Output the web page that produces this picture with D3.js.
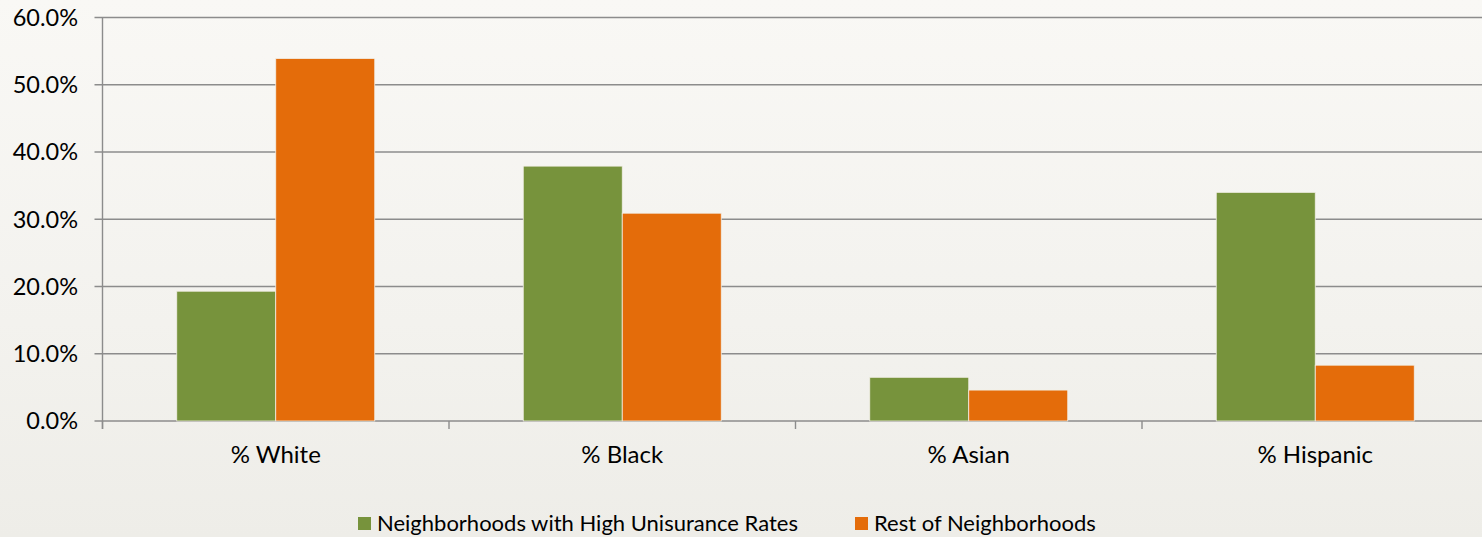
<!DOCTYPE html>
<html>
<head>
<meta charset="utf-8">
<script src="https://cdn.jsdelivr.net/npm/d3@7"></script>
<style>
  html, body { margin: 0; padding: 0; overflow: hidden; }
  body { background: #f4f3ef; }
</style>
</head>
<body>
<svg id="chart"></svg>
<script>
const width = 1482;
const height = 537;
const margin = { top: 17.5, right: -6.5, bottom: 116, left: 102.5 };

const categories = ["% White", "% Black", "% Asian", "% Hispanic"];
const seriesNames = ["Neighborhoods with High Unisurance Rates", "Rest of Neighborhoods"];
const highUninsured = [19.3, 37.9, 6.5, 34.0];
const restOfNeighborhoods = [53.9, 30.9, 4.6, 8.3];
const yTicks = [0, 10, 20, 30, 40, 50, 60];

const colors = ["#77933c", "#e46c0a"];
const fontFamily = "Lato, 'Open Sans', sans-serif";

const svg = d3.select("#chart")
    .attr("width", width)
    .attr("height", height);

// fond légèrement dégradé
const defs = svg.append("defs");
const grad = defs.append("linearGradient")
    .attr("id", "bg").attr("x1", 0).attr("y1", 0).attr("x2", 0).attr("y2", 1);
grad.append("stop").attr("offset", "0%").attr("stop-color", "#f9f8f5");
grad.append("stop").attr("offset", "60%").attr("stop-color", "#f3f2ee");
grad.append("stop").attr("offset", "100%").attr("stop-color", "#eeede8");
svg.append("rect").attr("width", width).attr("height", height).attr("fill", "url(#bg)");

const data = categories.map((c, i) => ({
    category: c,
    values: [highUninsured[i], restOfNeighborhoods[i]]
}));

const gap = 1.5 / 3.5;
const x0 = d3.scaleBand()
    .domain(categories)
    .range([margin.left, width - margin.right])
    .paddingInner(gap)
    .paddingOuter(gap / 2);

const x1 = d3.scaleBand()
    .domain([0, 1])
    .range([0, x0.bandwidth()]);

const y = d3.scaleLinear()
    .domain([0, 60])
    .range([height - margin.bottom, margin.top]);

// Quadrillage
svg.append("g")
    .selectAll("line")
    .data(yTicks)
    .join("line")
    .attr("x1", margin.left - 8)
    .attr("x2", width)
    .attr("y1", d => y(d))
    .attr("y2", d => y(d))
    .attr("stroke", "#8c8c8c")
    .attr("stroke-width", 1.4);

// Étiquettes de l'axe Y
svg.append("g")
    .selectAll("text")
    .data(yTicks)
    .join("text")
    .attr("x", 78)
    .attr("y", d => y(d))
    .attr("dy", "0.36em")
    .attr("text-anchor", "end")
    .style("font-family", fontFamily)
    .style("font-size", "23.5px")
    .attr("fill", "#000")
    .text(d => d.toFixed(1) + "%");

// Barres
const groups = svg.append("g")
    .selectAll("g")
    .data(data)
    .join("g")
    .attr("transform", d => `translate(${x0(d.category)},0)`);

groups.selectAll("rect")
    .data(d => d.values.map((v, i) => ({ v, i })))
    .join("rect")
    .attr("x", d => x1(d.i))
    .attr("width", x1.bandwidth())
    .attr("y", d => y(d.v))
    .attr("height", d => y(0) - y(d.v))
    .attr("fill", d => colors[d.i])
    .attr("stroke", "#f2efe6")
    .attr("stroke-width", 0.8);

// Axes
svg.append("line")
    .attr("x1", margin.left).attr("x2", margin.left)
    .attr("y1", y(60)).attr("y2", y(0) + 8)
    .attr("stroke", "#8c8c8c").attr("stroke-width", 1.4);

const step = x0.step();
const boundaries = categories.map((c, i) => margin.left + i * step).concat([margin.left + categories.length * step]);
svg.append("g")
    .selectAll("line")
    .data(boundaries)
    .join("line")
    .attr("x1", d => d).attr("x2", d => d)
    .attr("y1", y(0)).attr("y2", y(0) + 8)
    .attr("stroke", "#8c8c8c").attr("stroke-width", 1.4);

// Étiquettes des catégories
svg.append("g")
    .selectAll("text")
    .data(categories)
    .join("text")
    .attr("x", d => x0(d) + x0.bandwidth() / 2)
    .attr("y", 463)
    .attr("text-anchor", "middle")
    .style("font-family", fontFamily)
    .style("font-size", "24px")
    .attr("fill", "#000")
    .text(d => d);

// Légende
const legendX = [358, 855];
seriesNames.forEach((name, i) => {
    svg.append("rect")
        .attr("x", legendX[i])
        .attr("y", 517)
        .attr("width", 13)
        .attr("height", 13)
        .attr("fill", colors[i]);

    svg.append("text")
        .attr("x", legendX[i] + 19)
        .attr("y", 531)
        .style("font-family", fontFamily)
        .style("font-size", "22px")
        .attr("fill", "#000")
        .text(name);
});
</script>
</body>
</html>
